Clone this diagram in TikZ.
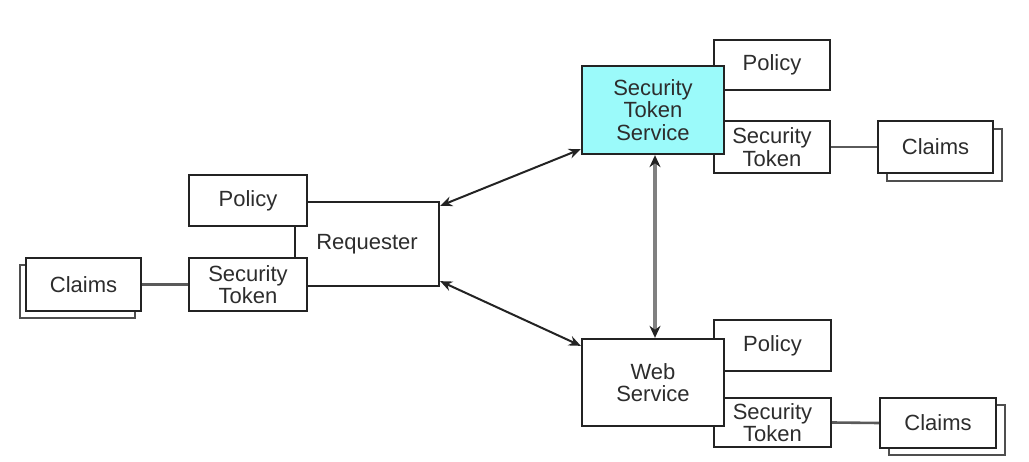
\documentclass[tikz,border=0pt]{standalone}
\usepackage{fontspec}
\setmainfont{Liberation Sans}
\usetikzlibrary{arrows.meta,calc}
\definecolor{stscyan}{RGB}{155,250,250}
\definecolor{edgecol}{RGB}{35,35,35}
\definecolor{txt}{RGB}{45,45,45}
\tikzset{
  box/.style={draw=edgecol, line width=2.3pt, fill=white, rectangle, inner sep=0pt,
    font=\fontsize{22}{22.5}\selectfont, text=txt, align=center},
  shadowbox/.style={draw=edgecol!80, line width=2pt, fill=white, rectangle, inner sep=0pt},
  link/.style={draw=edgecol!75, line width=2.6pt},
  biarrow/.style={draw=edgecol, line width=2pt, {Stealth[length=12pt,width=10pt]}-{Stealth[length=12pt,width=10pt]}},
  vertarrow/.style={draw=black!50, line width=3.2pt, {Stealth[length=12pt,width=11pt,color=edgecol]}-{Stealth[length=12pt,width=11pt,color=edgecol]}}
}
\begin{document}
\begin{tikzpicture}[x=1pt,y=-1pt]
\useasboundingbox (0,0) rectangle (1029,462);
% Requester (behind its policy and token)
\node[box, minimum width=144pt, minimum height=84pt] (req) at (367,244) {Requester};
% left side policy and token
\node[box, minimum width=118pt, minimum height=51pt] (polL) at (248,200.5) {Policy};
\node[box, minimum width=118pt, minimum height=53pt] (stL) at (248,284.5) {Security\\Token};
% left claims with shadow
\node[shadowbox, minimum width=115pt, minimum height=53pt] (clLs) at (77.5,291.5) {};
\node[box, minimum width=115pt, minimum height=53pt] (clL) at (83.5,284.5) {Claims};
% top right policy and token
\node[box, minimum width=116pt, minimum height=50pt] (polT) at (772,65) {Policy};
\node[box, minimum width=116pt, minimum height=52pt] (stT) at (772,147) {Security\\Token};
% top claims with shadow
\node[shadowbox, minimum width=115pt, minimum height=52pt] (clTs) at (944.5,155) {};
\node[box, minimum width=115pt, minimum height=52pt] (clT) at (935.5,147) {Claims};
% STS
\node[box, fill=stscyan, minimum width=142pt, minimum height=88pt] (sts) at (653,110) {Security\\Token\\Service};
% bottom right policy and token
\node[box, minimum width=117pt, minimum height=51pt] (polB) at (772.5,345.5) {Policy};
\node[box, minimum width=117pt, minimum height=49pt] (stB) at (772.5,422.5) {Security\\Token};
% bottom claims with shadow
\node[shadowbox, minimum width=116pt, minimum height=50pt] (clBs) at (947,430) {};
\node[box, minimum width=116pt, minimum height=50pt] (clB) at (938,423) {Claims};
% Web service
\node[box, minimum width=142pt, minimum height=87pt] (ws) at (653,382.5) {Web\\Service};
% links
\draw[link] (clL.east) -- (stL.west);
\draw[link] (stT.east) -- (clT.west);
\draw[link] (stB.east) -- (clB.west);
% arrows
\draw[biarrow] ([yshift=-5pt]req.north east) -- ([yshift=6pt]sts.south west);
\draw[biarrow] ([yshift=6pt]req.south east) -- ([yshift=-8pt]ws.north west);
\draw[vertarrow] ([xshift=2pt]sts.south) -- ([xshift=2pt]ws.north);
\end{tikzpicture}
\end{document}
